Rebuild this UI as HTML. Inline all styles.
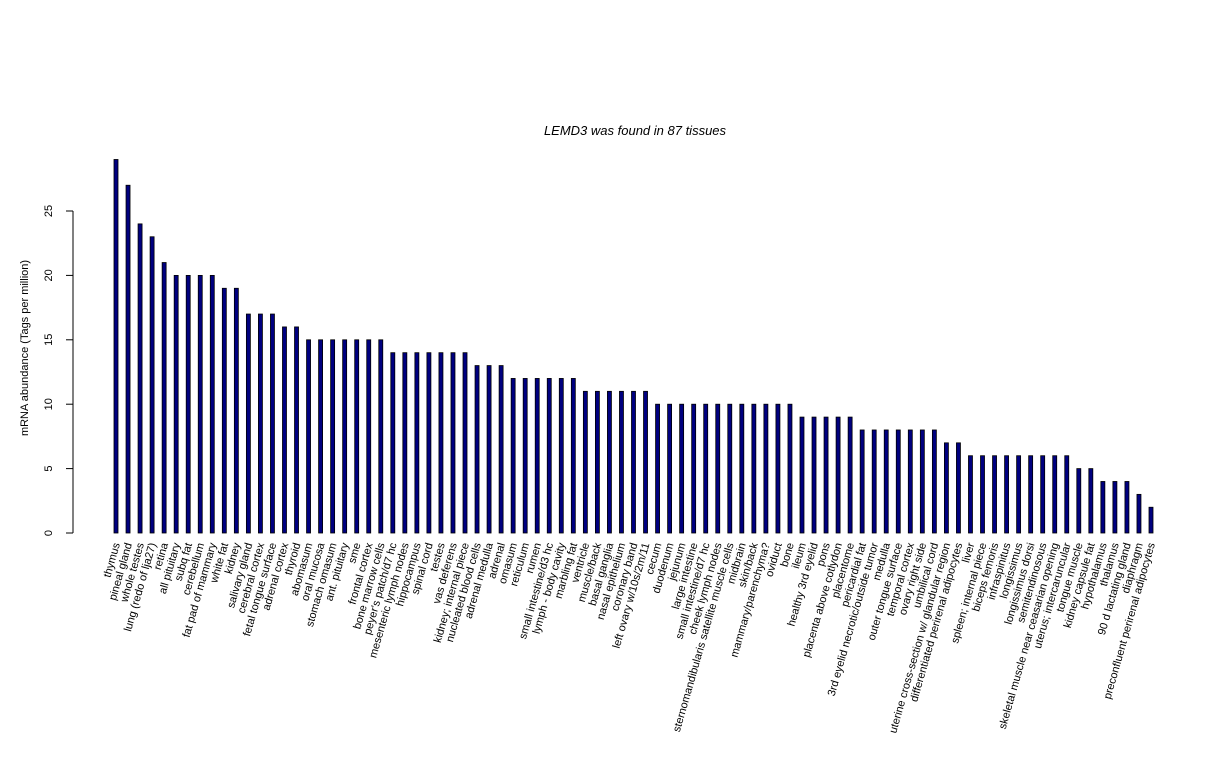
<!DOCTYPE html>
<html><head><meta charset="utf-8"><style>body{margin:0;background:#fff}svg{display:block;font-family:"Liberation Sans",sans-serif}</style></head>
<body>
<svg id="chart" width="1224" height="768" viewBox="0 0 1224 768">
<text x="635" y="135" font-size="13" font-style="italic" text-anchor="middle">LEMD3  was found in  87  tissues</text>
<text transform="translate(28,348) rotate(-90)" font-size="11" text-anchor="middle">mRNA abundance (Tags per million)</text>
<g id="yaxis"></g>
<g id="bars"></g>
<g id="xlabels"></g>
</svg>
<script>
const categories = ["thymus","pineal gland","whole testes","lung (redo of lja27)","retina","all pituitary","subq fat","cerebellum","fat pad of mammary","white fat","kidney","salivary gland","cerebral cortex","fetal tongue surface","adrenal cortex","thyroid","abomasum","oral mucosa","stomach omasum","ant. pituitary","sme","frontal cortex","bone marrow cells","peyer's patch/d7 hc","mesenteric lymph nodes","hippocampus","spinal cord","testes","vas deferens","kidney; internal piece","nucleated blood cells","adrenal medulla","adrenal","omasum","reticulum","rumen","small intestine/d3 hc","lymph - body cavity","marbling fat","ventricle","muscle/back","basal ganglia","nasal epithelium","coronary band","left ovary w/10s/2m/11","cecum","duodenum","jejunum","large intestine","small intestine/d7 hc","cheek lymph nodes","sternomandibularis satellite muscle cells","midbrain","skin/back","mammary/parenchyma?","oviduct","bone","ileum","healthy 3rd eyelid","pons","placenta above cotlydon","placentome","pericardial fat","3rd eyelid necrotic/outside tumor","medulla","outer tongue surface","temporal cortex","ovary right side","umbilical cord","uterine cross-section w/ glandular region","differentiated perirenal adipocytes","liver","spleen; internal piece","biceps femoris","infraspinitus","longissimus","longissimus dorsi","semitendinosous","skeletal muscle near ceasarian opening","uterus; intercaruncular","tongue muscle","kidney capsule fat","hypothalamus","thalamus","90 d lactating gland","diaphragm","preconfluent perirenal adipocytes"];
const values = [29,27,24,23,21,20,20,20,20,19,19,17,17,17,16,16,15,15,15,15,15,15,15,14,14,14,14,14,14,14,13,13,13,12,12,12,12,12,12,11,11,11,11,11,11,10,10,10,10,10,10,10,10,10,10,10,10,9,9,9,9,9,8,8,8,8,8,8,8,7,7,6,6,6,6,6,6,6,6,6,5,5,4,4,4,3,2];
const yTicks = [0,5,10,15,20,25];
const NS="http://www.w3.org/2000/svg";
const y0=533, pxPerUnit=(533-211)/25;
const yScale=v=>y0-v*pxPerUnit;
const xScale=i=>116+i*(1151-116)/(categories.length-1);
function mk(t,a,p){const e=document.createElementNS(NS,t);for(const k in a)e.setAttribute(k,a[k]);p.appendChild(e);return e;}
const ya=document.getElementById('yaxis');
const axl=mk('line',{x1:73,x2:73,y1:yScale(0),y2:yScale(25),stroke:'#000'},ya);


yTicks.forEach(v=>{
  const t=mk('line',{x1:66,x2:73,y1:yScale(v),y2:yScale(v),stroke:'#000'},ya);
  
  
  const l=mk('text',{transform:`translate(52,${yScale(v)}) rotate(-90)`,'font-size':11,'text-anchor':'middle'},ya);
  
  
  l.textContent=v;
});
const bg=document.getElementById('bars'), xl=document.getElementById('xlabels');
values.forEach((v,i)=>{
  const x=xScale(i);
  const r=mk('rect',{x:x-2,y:yScale(v),width:4,height:y0-yScale(v),fill:'#00007f',stroke:'#000','stroke-width':0.8},bg);
  
  
  const t=mk('text',{transform:`translate(${x+4},544) rotate(-74)`,'font-size':11,'text-anchor':'end'},xl);
  
  
  t.textContent=categories[i];
});
</script>
</body></html>
